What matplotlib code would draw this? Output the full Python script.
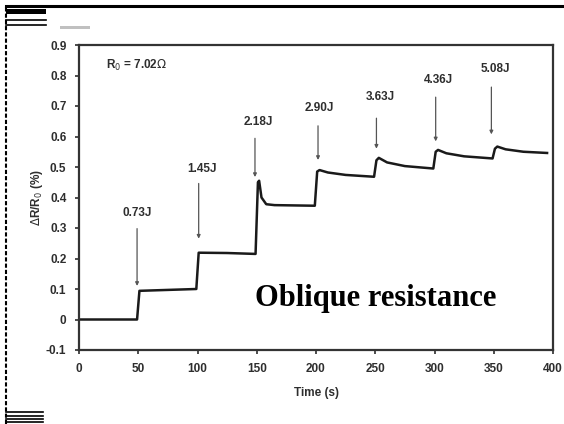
import matplotlib.pyplot as plt
from matplotlib.lines import Line2D
from matplotlib.patches import Rectangle

time = [0, 49, 51, 75, 99, 101, 125, 149, 151, 152, 154, 158, 165, 199,
        201, 203, 210, 225, 249, 251, 253, 260, 275, 299, 301, 303, 310,
        325, 349, 351, 353, 360, 375, 395]
dR = [0, 0, 0.094, 0.097, 0.100, 0.219, 0.218, 0.215, 0.45, 0.455, 0.40,
      0.378, 0.375, 0.373, 0.485, 0.49, 0.482, 0.474, 0.468, 0.522, 0.53,
      0.515, 0.503, 0.495, 0.55, 0.556, 0.545, 0.535, 0.528, 0.56, 0.567,
      0.558, 0.55, 0.546]

# impact energy markers
energies = ["0.73J", "1.45J", "2.18J", "2.90J", "3.63J", "4.36J", "5.08J"]
arrow_t = [49, 101, 148.5, 201.7, 251, 301, 348]
arrow_top = [0.298, 0.446, 0.594, 0.635, 0.66, 0.729, 0.762]
arrow_tip = [0.11, 0.265, 0.467, 0.523, 0.56, 0.584, 0.607]
label_t = [49, 104, 151, 203, 254, 303, 351]
label_y = [0.35, 0.495, 0.646, 0.695, 0.729, 0.786, 0.822]

xticks = [0, 50, 100, 150, 200, 250, 300, 350, 400]
yticks = [-0.1, 0, 0.1, 0.2, 0.3, 0.4, 0.5, 0.6, 0.7, 0.8, 0.9]
ytick_labels = ["-0.1", "0", "0.1", "0.2", "0.3", "0.4", "0.5", "0.6", "0.7", "0.8", "0.9"]

plt.rcParams['font.family'] = ['Liberation Sans', 'DejaVu Sans']
fig = plt.figure(figsize=(5.64, 4.24), dpi=100)
ax = fig.add_axes([79/564, 1-350/424, (553-79)/564, (350-45)/424])

ink = '#2e2e2e'
ax.plot(time, dR, color='#1a1a1a', lw=1.8)

for lab, t, top, tip, lt, ly in zip(energies, arrow_t, arrow_top, arrow_tip, label_t, label_y):
    ax.annotate('', xy=(t, tip), xytext=(t, top),
                arrowprops=dict(arrowstyle='-|>', color='#555555', lw=0.9,
                                mutation_scale=5, shrinkA=0, shrinkB=0))
    ax.text(lt, ly, lab, ha='center', va='center', fontsize=8.5,
            fontweight='bold', color=ink)

ax.text(23, 0.834, r'R$_0$ = 7.02$\Omega$', fontsize=8.5, fontweight='bold',
        color=ink, va='center')
ax.text(148.5, 0.044, 'Oblique resistance', family=['Liberation Serif', 'DejaVu Serif'],
        fontsize=22, fontweight='bold', color='black', va='baseline')

ax.set_xlim(0, 400)
ax.set_ylim(-0.1, 0.9)
ax.set_xticks(xticks)
ax.set_yticks(yticks)
ax.set_yticklabels(ytick_labels)
ax.tick_params(direction='out', length=3, width=1.2, color=ink, labelcolor=ink,
               labelsize=8.5, pad=6)
for lbl in ax.get_xticklabels() + ax.get_yticklabels():
    lbl.set_fontweight('bold')
for s in ax.spines.values():
    s.set_linewidth(1.6)
    s.set_color('#333333')
ax.set_xlabel('Time (s)', fontsize=8.5, fontweight='bold', color=ink, labelpad=9)
ax.set_ylabel(r'$\Delta$R/R$_0$ (%)', fontsize=8.5, fontweight='bold', color=ink, labelpad=1)

# scan border and marks
W, H = 564, 424
def px(x, y):
    return x / W, 1 - y / H
fig.add_artist(Line2D([6/W, 1], [1-6/H, 1-6/H], color='black', lw=2.2))
fig.add_artist(Line2D([6/W, 6/W], [0, 1-6/H], color='black', lw=1.5, ls=(0, (2, 1))))
fig.add_artist(Rectangle(px(6, 14), 40/W, 5/H, color='black', lw=0))
for y in [19.5, 25]:
    fig.add_artist(Line2D([6/W, 46/W], [1-y/H, 1-y/H], color='black', lw=1.2))
fig.add_artist(Rectangle(px(60, 29), 30/W, 3/H, color='#c0c0c0', lw=0))
for y in [412, 416, 419, 422]:
    fig.add_artist(Line2D([6/W, 43/W], [1-y/H, 1-y/H], color='black', lw=1.2))

plt.savefig('out.png', dpi=100)
